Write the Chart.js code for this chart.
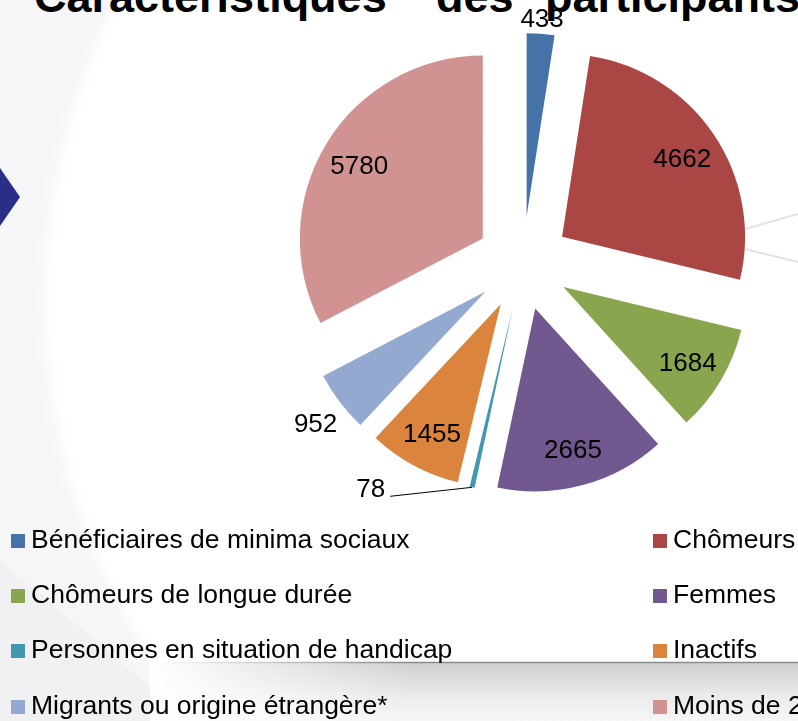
<!DOCTYPE html>
<html lang="fr">
<head>
<meta charset="utf-8">
<title>Caractéristiques des participants</title>
<script src="https://cdn.jsdelivr.net/npm/chart.js@4.4.0/dist/chart.umd.min.js"></script>
<style>
  html, body { margin: 0; padding: 0; width: 798px; height: 721px; overflow: hidden; background: #fff; }
  body { position: relative; font-family: "Liberation Sans", Arial, sans-serif; color: #000; }
  #bg { position: absolute; left: 0; top: 0; }
  .title-word { position: absolute; top: -26px; font-size: 45px; line-height: 45px; font-weight: bold; white-space: nowrap; }
  #chartBox { position: absolute; left: 0; top: 0; width: 798px; height: 721px; }
  .legend-item { position: absolute; height: 27px; font-size: 26.5px; line-height: 26.5px; white-space: nowrap; }
  .legend-item i { position: absolute; left: 0; top: 8px; width: 14px; height: 14px; }
  .legend-item span { position: absolute; left: 20px; top: 0; }
</style>
</head>
<body>
<svg id="bg" width="798" height="721">
  <defs>
    <linearGradient id="shade" x1="0" y1="0" x2="0" y2="1">
      <stop offset="0" stop-color="#cfcfcf"/>
      <stop offset="0.6" stop-color="#ececec"/>
      <stop offset="1" stop-color="#f6f6f6"/>
    </linearGradient>
    <linearGradient id="fadeX" x1="0" y1="0" x2="1" y2="0">
      <stop offset="0" stop-color="#fff" stop-opacity="1"/>
      <stop offset="0.4" stop-color="#fff" stop-opacity="0"/>
    </linearGradient>
    <filter id="soft"><feGaussianBlur stdDeviation="6"/></filter>
  </defs>
  <rect x="0" y="0" width="798" height="721" fill="#f6f6f8"/>
  <ellipse cx="620" cy="300" rx="575" ry="620" fill="#fff" filter="url(#soft)"/>
  <polygon points="0,560 190,721 0,721" fill="#f1f1f3"/>
  <rect x="150" y="662" width="648" height="59" fill="url(#shade)"/>
  <line x1="150" y1="662.5" x2="798" y2="662.5" stroke="#8a8a8a" stroke-width="1.5"/>
  <rect x="150" y="655" width="648" height="66" fill="url(#fadeX)"/>
  <line x1="745" y1="229" x2="798" y2="214" stroke="#e2e2e2" stroke-width="2"/>
  <line x1="745" y1="249" x2="798" y2="262" stroke="#e2e2e2" stroke-width="2"/>
  <polygon points="0,168 20,197 0,226" fill="#2a2e86"/>
</svg>

<div class="title-word" style="left:34px">Caractéristiques</div>
<div class="title-word" style="left:436px">des</div>
<div class="title-word" style="left:545px">participants</div>

<div id="chartBox"><canvas id="pieChart" width="798" height="721"></canvas></div>
<div id="legend"></div>

<script>
// données
var categories = [
    'Bénéficiaires de minima sociaux',
    'Chômeurs',
    'Chômeurs de longue durée',
    'Femmes',
    'Personnes en situation de handicap',
    'Inactifs',
    'Migrants ou origine étrangère*',
    'Moins de 25 ans'
];
var participants = [433, 4662, 1684, 2665, 78, 1455, 952, 5780];
var sliceColors = ['#4572A7', '#AA4643', '#89A54E', '#71588F', '#4198AF', '#DB843D', '#93A9CF', '#D19392'];

// pie "éclatée" : chaque part est décalée le long de sa bissectrice
var explodePlugin = {
    id: 'explode',
    beforeDatasetDraw: function (chart, args, opts) {
        var ctx = chart.ctx;
        args.meta.data.forEach(function (arc) {
            var mid = (arc.startAngle + arc.endAngle) / 2;
            ctx.save();
            ctx.translate(Math.cos(mid) * opts.distance, Math.sin(mid) * opts.distance);
            arc.draw(ctx);
            ctx.restore();
        });
        return false;
    }
};

var valueLabels = {
    id: 'valueLabels',
    afterDatasetsDraw: function (chart, args, opts) {
        var ctx = chart.ctx;
        var meta = chart.getDatasetMeta(0);
        var values = chart.data.datasets[0].data;
        var dist = chart.options.plugins.explode.distance;
        ctx.save();
        ctx.font = opts.font;
        ctx.fillStyle = opts.color;
        ctx.strokeStyle = opts.color;
        ctx.lineWidth = 1;
        meta.data.forEach(function (arc, i) {
            var mid = (arc.startAngle + arc.endAngle) / 2;
            var span = arc.endAngle - arc.startAngle;
            var cos = Math.cos(mid), sin = Math.sin(mid);
            var cx = arc.x + cos * dist, cy = arc.y + sin * dist;
            var r = arc.outerRadius;
            var text = String(values[i]);
            var w = ctx.measureText(text).width;
            if (span >= opts.insideMin) {
                ctx.textAlign = 'center';
                ctx.textBaseline = 'middle';
                ctx.fillText(text, cx + cos * r * opts.inside, cy + sin * r * opts.inside + opts.dy);
            } else if (span >= opts.leaderMax) {
                var d = r + opts.gap + Math.abs(cos) * w / 2 + Math.abs(sin) * opts.textHeight / 2;
                ctx.textAlign = 'center';
                ctx.textBaseline = 'middle';
                ctx.fillText(text, cx + cos * d, cy + sin * d + 5);
            } else {
                var x0 = cx + cos * r, y0 = cy + sin * r;
                var x1 = x0 + opts.leader.dx, y1 = y0 + opts.leader.dy;
                ctx.beginPath();
                ctx.moveTo(x0, y0);
                ctx.lineTo(x1, y1);
                ctx.stroke();
                ctx.textAlign = 'right';
                ctx.textBaseline = 'alphabetic';
                ctx.fillText(text, x1 - 5, y1 + 1);
            }
        });
        ctx.restore();
    }
};

var pieChart = new Chart(document.getElementById('pieChart'), {
    type: 'pie',
    data: {
        labels: categories,
        datasets: [{
            data: participants,
            backgroundColor: sliceColors,
            borderWidth: 0
        }]
    },
    options: {
        responsive: false,
        animation: false,
        radius: 183,
        layout: { padding: { left: 250, right: 2, top: 0, bottom: 195 } },
        plugins: {
            legend: { display: false },
            tooltip: { enabled: false },
            explode: { distance: 47 },
            valueLabels: {
                font: '26px "Liberation Sans", Arial, sans-serif',
                color: '#000',
                inside: 0.79,
                insideMin: 25 * Math.PI / 180,
                leaderMax: 5 * Math.PI / 180,
                gap: 7,
                dy: 3,
                textHeight: 20,
                leader: { dx: -82, dy: 9 }
            }
        }
    },
    plugins: [explodePlugin, valueLabels]
});

// légende sur deux colonnes, construite à partir du graphique
var legendBox = document.getElementById('legend');
var legendItems = pieChart.options.plugins.legend.labels.generateLabels(pieChart);
var colX = [11, 653];
legendItems.forEach(function (item, i) {
    var div = document.createElement('div');
    div.className = 'legend-item';
    div.style.left = colX[i % 2] + 'px';
    div.style.top = (525.6 + Math.floor(i / 2) * 55.4) + 'px';
    var sw = document.createElement('i');
    sw.style.background = item.fillStyle;
    var label = document.createElement('span');
    label.textContent = item.text;
    div.appendChild(sw);
    div.appendChild(label);
    legendBox.appendChild(div);
});
</script>
</body>
</html>
